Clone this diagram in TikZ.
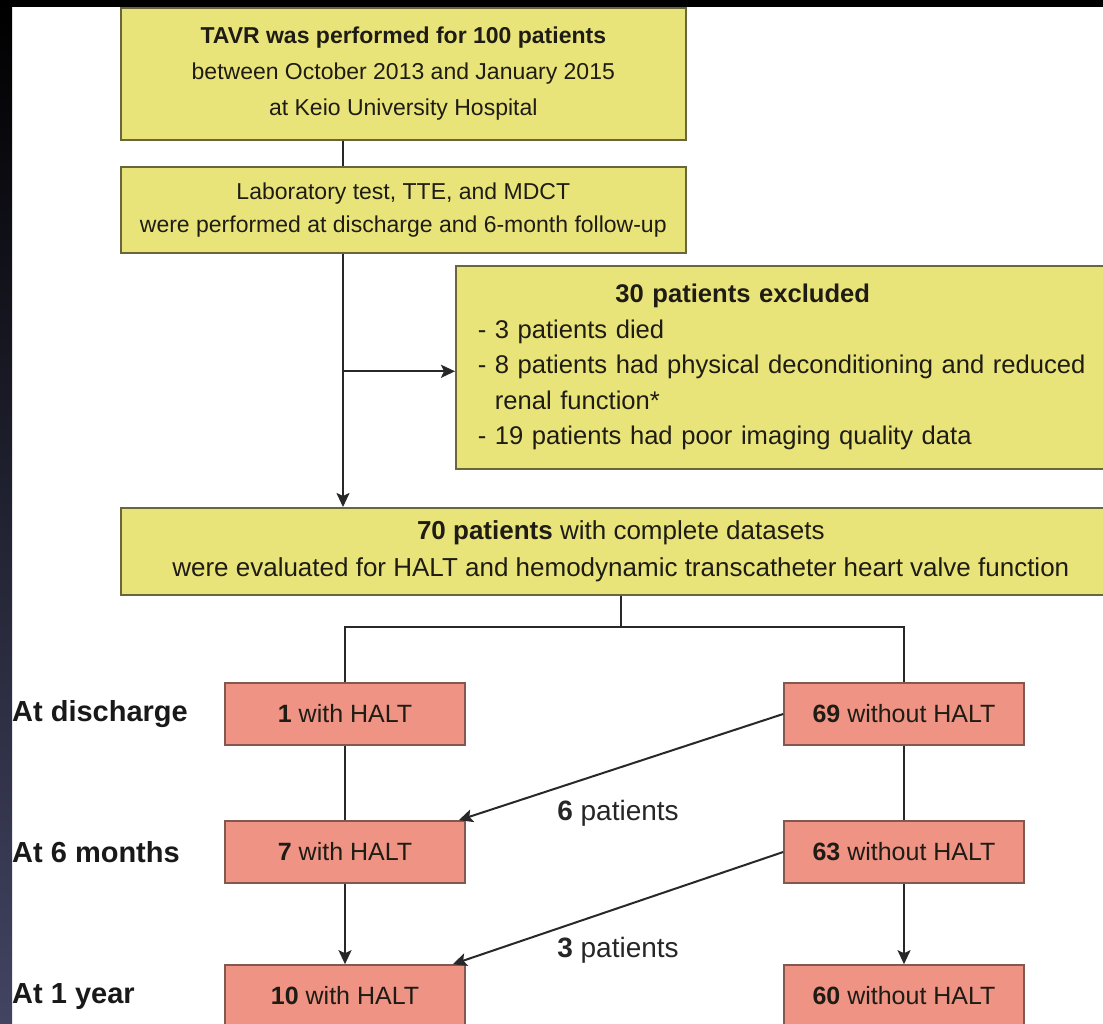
\documentclass[tikz,border=0pt]{standalone}
\usepackage{fontspec}
\setmainfont{Liberation Sans}
\usetikzlibrary{arrows.meta,calc}
\definecolor{yfill}{RGB}{233,228,122}
\definecolor{ybord}{RGB}{105,102,62}
\definecolor{pfill}{RGB}{239,147,132}
\definecolor{pbord}{RGB}{130,88,80}
\definecolor{lnc}{RGB}{40,40,40}
\definecolor{txt}{RGB}{30,28,20}
\definecolor{stripbot}{RGB}{66,68,98}
\begin{document}
\begin{tikzpicture}[x=1pt,y=-1pt,
  ybox/.style={draw=ybord,fill=yfill,line width=1.6pt,inner sep=0pt,align=center,text=txt},
  pbox/.style={draw=pbord,fill=pfill,line width=1.6pt,inner sep=0pt,align=center,text=txt,
    minimum width=240pt,minimum height=62pt,font=\fontsize{25}{30}\selectfont},
  rowlab/.style={anchor=west,inner sep=0pt,text=black!90,font=\fontsize{29}{34}\selectfont\bfseries},
  plab/.style={inner sep=0pt,text=black!85,font=\fontsize{28}{32}\selectfont},
  conn/.style={draw=lnc,line width=2pt},
  arr/.style={conn,-{Stealth[length=14pt,width=13pt,inset=3pt]}}]
\clip (0,0) rectangle (1103,1024);
\fill[white] (0,0) rectangle (1103,1024);

% coordinates for the main spine and the split bar
\coordinate (spine) at (343,0);
\coordinate (bar) at (0,627);

% yellow boxes
\node[ybox,font=\fontsize{23}{36}\selectfont,minimum width=565pt,minimum height=132pt,anchor=north west] (b1) at (120,7)
  {\textbf{TAVR was performed for 100 patients}\\between October 2013 and January 2015\\at Keio University Hospital};
\node[ybox,font=\fontsize{23}{33}\selectfont,minimum width=565pt,minimum height=86pt,anchor=north west] (b2) at (120,166)
  {Laboratory test, TTE, and MDCT\\were performed at discharge and 6-month follow-up};
\node[ybox,font=\fontsize{25.6}{35.5}\selectfont,align=left,text width=660pt,inner xsep=22pt,inner ysep=0pt,minimum height=203pt,anchor=north west] (b3) at (455,265)
  {\hspace*{265pt}\makebox[0pt]{\textbf{30 patients excluded}}\\
   - 3 patients died\\
   - 8 patients had physical deconditioning and reduced\\
   \phantom{- }renal function*\\
   - 19 patients had poor imaging quality data};
\node[ybox,font=\fontsize{26}{37}\selectfont,minimum width=1000pt,minimum height=87pt,anchor=north west] (b4) at (120,507)
  {\textbf{70 patients} with complete datasets\\were evaluated for HALT and hemodynamic transcatheter heart valve function};

% pink boxes
\node[pbox] (h1) at (345,714) {\textbf{1} with HALT};
\node[pbox] (n69) at (904,714) {\textbf{69} without HALT};
\node[pbox] (h7) at (345,852) {\textbf{7} with HALT};
\node[pbox] (n63) at (904,852) {\textbf{63} without HALT};
\node[pbox] (h10) at (345,996) {\textbf{10} with HALT};
\node[pbox] (n60) at (904,996) {\textbf{60} without HALT};

% row labels
\node[rowlab] (r1) at (12,714) {At discharge};
\node[rowlab] (r2) at (12,852) {At 6 months};
\node[rowlab] (r3) at (12,997) {At 1 year};

% transfer labels
\node[plab] (p6) at (618,813) {\textbf{6} patients};
\node[plab] (p3) at (618,950) {\textbf{3} patients};

% connectors
\draw[conn] (b1.south -| spine) -- (b2.north -| spine);
\draw[arr] (b2.south -| spine) -- (b4.north -| spine);
\draw[arr] ([yshift=-4pt]spine |- b3.west) -- ([yshift=-4pt]b3.west);
\draw[conn] (b4.south) -- (b4.south |- bar);
\draw[conn] (h1.north) -- (h1.north |- bar) -- (n69.north |- bar) -- (n69.north);
\draw[conn] (h1.south) -- (h7.north);
\draw[arr] (h7.south) -- (h10.north);
\draw[conn] (n69.south) -- (n63.north);
\draw[arr] (n63.south) -- (n60.north);
\draw[arr] (n69.west) -- ([xshift=-7pt]h7.north east);
\draw[arr] (n63.west) -- ([xshift=-13pt]h10.north east);

% screen frame
\fill[black] (0,0) rectangle (1103,7);
\shade[top color=black,bottom color=stripbot] (0,0) rectangle (12,1024);
\end{tikzpicture}
\end{document}
